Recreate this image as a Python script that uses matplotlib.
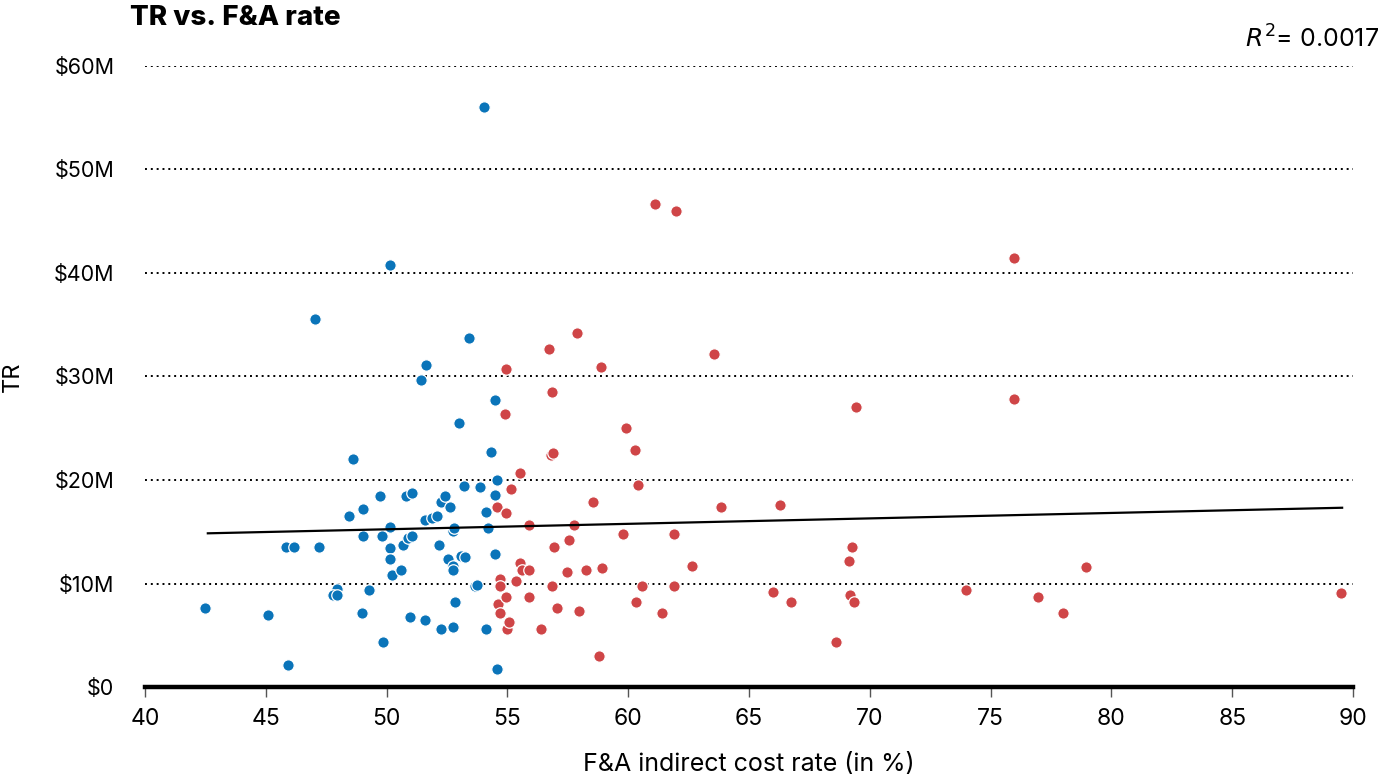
import matplotlib
matplotlib.use("Agg")
import matplotlib.pyplot as plt
from matplotlib.ticker import FuncFormatter

plt.rcParams['font.family'] = ['Inter', 'DejaVu Sans']

# blue group: F&A rate (%), TR ($M)
blue_x = [42.5, 45.1, 45.92, 45.84, 46.16, 47.19, 47.03, 47.94, 47.78, 47.94,
          48.45, 48.59, 48.98, 49.04, 49.04, 49.27, 49.71, 49.79, 49.87, 50.16,
          50.16, 50.16, 50.16, 50.24, 50.6, 50.69, 50.82, 50.9, 50.98, 51.06,
          51.07, 51.43, 51.57, 51.57, 51.64, 51.88, 52.1, 52.16, 52.25, 52.25,
          52.4, 52.54, 52.62, 52.75, 52.79, 52.75, 52.75, 52.76, 52.84, 52.99,
          53.06, 53.23, 53.21, 53.42, 53.67, 53.75, 53.88, 54.03, 54.1, 54.1,
          54.18, 54.33, 54.47, 54.47, 54.47, 54.55, 54.55]
blue_y = [7.66, 6.96, 2.1, 13.56, 13.56, 13.56, 35.6, 9.44, 8.89, 8.89,
          16.52, 22.06, 7.15, 17.2, 14.59, 9.4, 18.42, 14.59, 4.38, 40.8,
          15.49, 13.4, 12.34, 10.79, 11.3, 13.75, 18.42, 14.43, 6.79, 18.77,
          14.62, 29.7, 16.16, 6.44, 31.08, 16.36, 16.52, 13.75, 17.9, 5.57,
          18.42, 12.34, 17.39, 15.07, 15.33, 11.69, 11.3, 5.77, 8.18, 25.54,
          12.69, 12.53, 19.45, 33.69, 9.76, 9.88, 19.29, 56.07, 16.88, 5.57,
          15.33, 22.73, 27.76, 18.58, 12.88, 20.0, 1.77]

# red group
red_x = [54.55, 54.62, 54.71, 54.71, 54.71, 54.91, 54.93, 54.93, 54.93, 55.0,
         55.08, 55.14, 55.37, 55.52, 55.52, 55.6, 55.89, 55.89, 55.89, 56.4,
         56.71, 56.79, 56.87, 56.86, 56.86, 56.94, 57.07, 57.46, 57.54, 57.74,
         57.9, 57.97, 58.27, 58.56, 58.78, 58.86, 58.93, 59.77, 59.91, 60.27,
         60.34, 60.39, 60.58, 61.1, 61.39, 61.91, 61.91, 61.98, 62.66, 63.56,
         63.85, 66.0, 66.29, 66.75, 68.61, 69.12, 69.19, 69.27, 69.34, 69.42,
         73.97, 75.97, 75.97, 76.95, 77.99, 78.95, 89.52]
red_y = [17.36, 8.02, 10.46, 9.76, 7.15, 26.4, 30.76, 16.84, 8.7, 5.57,
         6.28, 19.1, 10.27, 20.68, 12.0, 11.3, 15.65, 11.3, 8.7, 5.57,
         32.66, 22.42, 22.6, 28.47, 9.76, 13.56, 7.66, 11.14, 14.23, 15.65,
         34.2, 7.31, 11.3, 17.9, 3.0, 30.92, 11.47, 14.78, 25.0, 22.93,
         8.18, 19.49, 9.76, 46.7, 7.15, 14.78, 9.76, 45.99, 11.66, 32.14,
         17.39, 9.21, 17.55, 8.18, 4.38, 12.17, 8.89, 13.56, 8.18, 27.08,
         9.4, 41.48, 27.8, 8.7, 7.15, 11.63, 9.05]

# trend line
trend_x = [42.6, 89.55]
trend_y = [14.85, 17.32]
r2 = 0.0017

xticks = [40, 45, 50, 55, 60, 65, 70, 75, 80, 85, 90]
yticks = [0, 10, 20, 30, 40, 50, 60]

fig = plt.figure(figsize=(13.85, 7.77), dpi=100)
ax = fig.add_axes([0.1047, 0.1158, 0.8722, 0.7993])

for yv in yticks[1:]:
    ax.axhline(yv, color='black', lw=1.4, ls=(0, (1, 2)), zorder=1)

ax.scatter(blue_x, blue_y, s=68, color='#0a74b9', edgecolor='white', linewidth=0.9, zorder=3)
ax.scatter(red_x, red_y, s=68, color='#cf4547', edgecolor='white', linewidth=0.9, zorder=3)
ax.plot(trend_x, trend_y, color='black', lw=1.6, zorder=4)

ax.set_xlim(40, 90)
ax.set_ylim(0, 60)
ax.set_xticks(xticks)
ax.set_yticks(yticks)
ax.yaxis.set_major_formatter(FuncFormatter(lambda v, p: '$0' if v == 0 else '$%dM' % v))

for s in ['top', 'right', 'left']:
    ax.spines[s].set_visible(False)
ax.spines['bottom'].set_linewidth(3.2)
ax.spines['bottom'].set_zorder(5)
ax.tick_params(axis='x', length=7, width=1, color='#555555', labelsize=16.5, pad=8, direction='out')
ax.tick_params(axis='y', length=0, labelsize=15.5, pad=22)

ax.set_xlabel('F&A indirect cost rate (in %)', fontsize=18, labelpad=17)
ax.set_ylabel('TR', fontsize=17, labelpad=22)

fig.text(0.094, 0.977, 'TR vs. F&A rate', fontsize=20, fontweight='heavy', ha='left', va='center')
fig.text(0.996, 0.950, '$R^2$= %.4f' % r2, fontsize=18, ha='right', va='center')

fig.savefig('out.png', dpi=100)
